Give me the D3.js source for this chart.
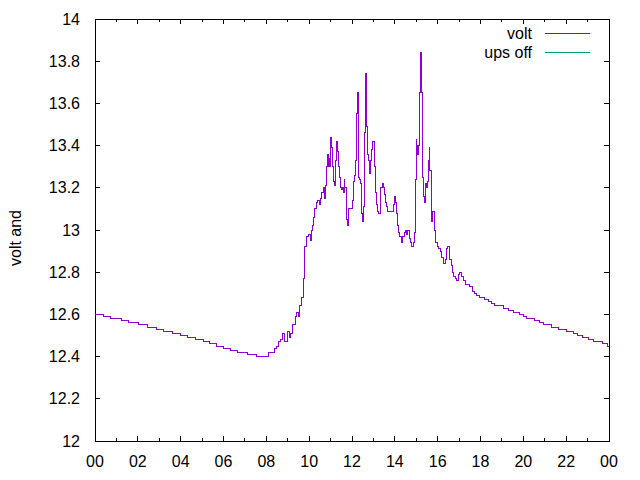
<!DOCTYPE html>
<html>
<head>
<meta charset="utf-8">
<script src="https://d3js.org/d3.v7.min.js"></script>
<style>
  body { margin: 0; background: #fff; }
  text { font-family: 'Liberation Sans', Arial, sans-serif; font-size: 16px; fill: #000; }
</style>
</head>
<body>
<script>

// hours since midnight where a new reading starts
var hours = [0.00, 0.39, 0.71, 1.26, 1.55, 2.02, 2.44, 2.89, 3.19, 3.61, 3.97, 4.34, 4.68, 5.06, 5.34,
    5.65, 5.99, 6.35, 6.64, 7.10, 7.53, 8.12, 8.37, 8.48, 8.59, 8.68, 8.74, 8.84, 8.98, 9.10,
    9.15, 9.21, 9.34, 9.42, 9.48, 9.57, 9.65, 9.72, 9.77, 9.80, 9.88, 9.96, 10.04, 10.12, 10.16,
    10.22, 10.27, 10.32, 10.40, 10.46, 10.52, 10.58, 10.66, 10.72, 10.77, 10.80, 10.84, 10.88, 10.91, 10.96,
    10.99, 11.03, 11.08, 11.13, 11.17, 11.22, 11.27, 11.31, 11.36, 11.41, 11.45, 11.50, 11.55, 11.59, 11.64,
    11.67, 11.72, 11.76, 11.81, 11.84, 11.97, 12.03, 12.08, 12.12, 12.16, 12.21, 12.25, 12.29, 12.34, 12.40,
    12.46, 12.50, 12.52, 12.57, 12.62, 12.66, 12.70, 12.73, 12.78, 12.82, 12.87, 12.92, 12.96, 13.06, 13.10,
    13.15, 13.20, 13.24, 13.31, 13.35, 13.41, 13.48, 13.52, 13.57, 13.62, 13.68, 13.93, 13.99, 14.04, 14.09,
    14.13, 14.18, 14.24, 14.30, 14.37, 14.43, 14.49, 14.55, 14.61, 14.67, 14.74, 14.80, 14.86, 14.93, 14.95,
    14.99, 15.02, 15.07, 15.09, 15.14, 15.19, 15.23, 15.27, 15.31, 15.35, 15.37, 15.42, 15.47, 15.51, 15.56,
    15.61, 15.64, 15.69, 15.73, 15.78, 15.83, 15.87, 15.92, 15.97, 16.03, 16.15, 16.20, 16.25, 16.29, 16.35,
    16.42, 16.48, 16.53, 16.57, 16.63, 16.70, 16.76, 16.82, 16.88, 16.95, 17.01, 17.12, 17.19, 17.32, 17.47,
    17.63, 17.73, 17.82, 17.97, 18.21, 18.36, 18.53, 18.67, 19.06, 19.30, 19.53, 19.84, 20.00, 20.15, 20.54,
    20.77, 20.96, 21.32, 21.63, 22.02, 22.33, 22.55, 22.74, 23.03, 23.26, 23.70, 23.95, 24.00];

var volt = [12.60, 12.59, 12.58, 12.57, 12.56, 12.55, 12.54, 12.53, 12.52, 12.51, 12.50, 12.49, 12.48, 12.47, 12.46,
    12.45, 12.44, 12.43, 12.42, 12.41, 12.40, 12.42, 12.44, 12.45, 12.47, 12.48, 12.51, 12.47, 12.52, 12.49,
    12.51, 12.55, 12.59, 12.61, 12.59, 12.64, 12.68, 12.77, 12.85, 12.92, 12.97, 12.98, 12.95, 13.00, 13.02,
    13.06, 13.10, 13.13, 13.14, 13.12, 13.15, 13.18, 13.20, 13.15, 13.21, 13.30, 13.36, 13.30, 13.34, 13.30,
    13.44, 13.39, 13.30, 13.23, 13.21, 13.33, 13.42, 13.37, 13.30, 13.25, 13.20, 13.19, 13.20, 13.18, 13.24,
    13.20, 13.16, 13.05, 13.02, 13.10, 13.10, 13.14, 13.23, 13.26, 13.33, 13.55, 13.65, 13.25, 13.24, 13.22,
    13.08, 13.04, 13.11, 13.46, 13.74, 13.63, 13.49, 13.36, 13.33, 13.27, 13.33, 13.38, 13.42, 13.30, 13.18,
    13.12, 13.09, 13.08, 13.17, 13.20, 13.22, 13.20, 13.17, 13.13, 13.11, 13.09, 13.12, 13.16, 13.13, 13.08,
    13.02, 12.99, 12.97, 12.94, 12.97, 12.99, 13.00, 12.98, 13.00, 12.96, 12.94, 12.92, 12.94, 12.99, 13.24,
    13.43, 13.40, 13.36, 13.40, 13.65, 13.84, 13.65, 13.35, 13.25, 13.16, 13.13, 13.22, 13.20, 13.23, 13.33,
    13.39, 13.28, 13.13, 13.04, 13.09, 13.08, 13.00, 12.94, 12.92, 12.91, 12.90, 12.87, 12.85, 12.84, 12.86,
    12.91, 12.92, 12.90, 12.86, 12.83, 12.80, 12.78, 12.77, 12.76, 12.79, 12.80, 12.78, 12.76, 12.74, 12.73,
    12.71, 12.70, 12.69, 12.68, 12.67, 12.66, 12.65, 12.64, 12.63, 12.62, 12.61, 12.60, 12.59, 12.58, 12.57,
    12.56, 12.55, 12.54, 12.53, 12.52, 12.51, 12.50, 12.49, 12.48, 12.47, 12.46, 12.45, 12.45];

var yTicks = [12, 12.2, 12.4, 12.6, 12.8, 13, 13.2, 13.4, 13.6, 13.8, 14];
var xTickLabels = ['00', '02', '04', '06', '08', '10', '12', '14', '16', '18', '20', '22', '00'];
var seriesNames = ['volt', 'ups off'];
var seriesColors = ['#9400d3', '#009e73'];

var width = 640, height = 480;
var plotL = 95, plotR = 609, plotT = 19, plotB = 441;

var svg = d3.select('body').append('svg')
    .attr('width', width)
    .attr('height', height);

var x = d3.scaleLinear().domain([0, 24]).range([plotL, plotR]);
var y = d3.scaleLinear().domain([12, 14]).range([plotB, plotT]);

var majorHours = d3.range(0, 25, 2);
var minorHours = d3.range(1, 24, 2);

var axes = svg.append('g').attr('stroke', '#000').attr('stroke-width', 1).attr('shape-rendering', 'crispEdges');

// ticks on all four sides, gnuplot style (pointing inwards)
majorHours.forEach(function(h) {
    axes.append('line').attr('x1', x(h)).attr('x2', x(h)).attr('y1', plotB).attr('y2', plotB - 5);
    axes.append('line').attr('x1', x(h)).attr('x2', x(h)).attr('y1', plotT).attr('y2', plotT + 5);
});
minorHours.forEach(function(h) {
    axes.append('line').attr('x1', x(h)).attr('x2', x(h)).attr('y1', plotB).attr('y2', plotB - 3);
    axes.append('line').attr('x1', x(h)).attr('x2', x(h)).attr('y1', plotT).attr('y2', plotT + 3);
});
yTicks.forEach(function(v) {
    axes.append('line').attr('x1', plotL).attr('x2', plotL + 5).attr('y1', y(v)).attr('y2', y(v));
    axes.append('line').attr('x1', plotR).attr('x2', plotR - 5).attr('y1', y(v)).attr('y2', y(v));
});

axes.append('rect')
    .attr('x', plotL).attr('y', plotT)
    .attr('width', plotR - plotL).attr('height', plotB - plotT)
    .attr('fill', 'none');

// tick labels
svg.selectAll('.ylab').data(yTicks).enter().append('text')
    .attr('class', 'ylab')
    .attr('x', plotL - 15)
    .attr('y', function(d) { return y(d); })
    .attr('dy', '0.35em')
    .attr('text-anchor', 'end')
    .text(function(d) { return d3.format('~g')(d); });

svg.selectAll('.xlab').data(majorHours).enter().append('text')
    .attr('class', 'xlab')
    .attr('x', function(d) { return x(d); })
    .attr('y', plotB + 26)
    .attr('text-anchor', 'middle')
    .text(function(d, i) { return xTickLabels[i]; });

svg.append('text')
    .attr('transform', 'translate(21,' + ((plotT + plotB) / 2 + 8) + ') rotate(-90)')
    .attr('text-anchor', 'middle')
    .text('volt and');

// the data line
var pts = hours.map(function(h, i) { return [h, volt[i]]; });
var line = d3.line()
    .x(function(d) { return x(d[0]); })
    .y(function(d) { return y(d[1]); })
    .curve(d3.curveStepAfter);

svg.append('path')
    .datum(pts)
    .attr('d', line)
    .attr('fill', 'none')
    .attr('stroke', seriesColors[0])
    .attr('stroke-width', 1)
    .attr('shape-rendering', 'crispEdges');

// legend
seriesNames.forEach(function(name, i) {
    var ly = 33.5 + i * 19;
    svg.append('text')
        .attr('x', 532)
        .attr('y', ly)
        .attr('dy', '0.35em')
        .attr('text-anchor', 'end')
        .text(name);
    svg.append('line')
        .attr('x1', 545).attr('x2', 590)
        .attr('y1', ly).attr('y2', ly)
        .attr('stroke', seriesColors[i])
        .attr('stroke-width', 1)
        .attr('shape-rendering', 'crispEdges');
});

</script>
</body>
</html>
